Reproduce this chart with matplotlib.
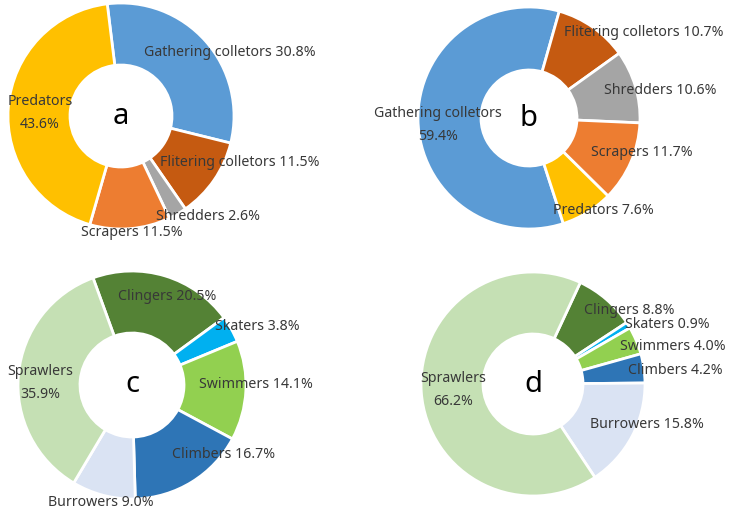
import matplotlib.pyplot as plt

# functional feeding groups (a, b) and habit groups (c, d)
feed_names = ['Gathering colletors', 'Flitering colletors', 'Shredders', 'Scrapers', 'Predators']
a_values = [30.8, 11.5, 2.6, 11.5, 43.6]
b_values = [59.4, 10.7, 10.6, 11.7, 7.6]

habit_names = ['Clingers', 'Skaters', 'Swimmers', 'Climbers', 'Burrowers', 'Sprawlers']
c_values = [20.5, 3.8, 14.1, 16.7, 9.0, 35.9]
d_values = [8.8, 0.9, 4.0, 4.2, 15.8, 66.2]

feed_colors = ['#5B9BD5', '#C55A11', '#A5A5A5', '#ED7D31', '#FFC000']
habit_colors = ['#548235', '#00B0F0', '#92D050', '#2E75B6', '#DAE3F3', '#C5E0B4']

W, H = 735, 518
plt.rcParams['font.family'] = ['Noto Sans', 'DejaVu Sans']

fig = plt.figure(figsize=(W / 100, H / 100), dpi=100)
ax = fig.add_axes([0, 0, 1, 1])

# panel layout in pixel coords: center x, center y, outer r, inner r, first slice angle (deg clockwise from 12 o'clock)
panels = [
    ('a', a_values, feed_names, feed_colors, (121, 116), 113, 51, -7,
     [(230, 52), (240, 163), (208, 216), (132, 233), (40, 113)]),
    ('b', b_values, feed_names, feed_colors, (529, 118), 111, 48, 162,
     [(438, 125), (644, 33), (660, 90), (642, 153), (603, 211)]),
    ('c', c_values, habit_names, habit_colors, (132, 385), 114, 52, -20,
     [(167, 297), (257, 326), (256, 385), (224, 455), (101, 503), (40, 383)]),
    ('d', d_values, habit_names, habit_colors, (533, 384), 112, 50, 25,
     [(629, 310), (667, 325), (673, 346), (675, 370), (647, 424), (453, 390)]),
]

for letter, vals, names, cols, (cx, cy), r, r_in, start, lab_pos in panels:
    ax.pie(vals, colors=cols, startangle=90 - start, counterclock=False,
           center=(cx, H - cy), radius=r,
           wedgeprops=dict(width=r - r_in, edgecolor='white', linewidth=2))
    ax.text(cx, H - cy, letter, fontsize=21, ha='center', va='center', color='black')
    big = max(vals)
    for name, v, (lx, ly) in zip(names, vals, lab_pos):
        if v == big:
            txt = f'{name}\n{v:.1f}%'
            ax.text(lx, H - ly, txt, fontsize=10.2, ha='center', va='center',
                    color='#383838', linespacing=1.8)
        else:
            ax.text(lx, H - ly, f'{name} {v:.1f}%', fontsize=10.2, ha='center',
                    va='center', color='#383838')

ax.set_xlim(0, W)
ax.set_ylim(0, H)
ax.set_aspect('equal')
ax.axis('off')

fig.savefig('out.png', dpi=100)
